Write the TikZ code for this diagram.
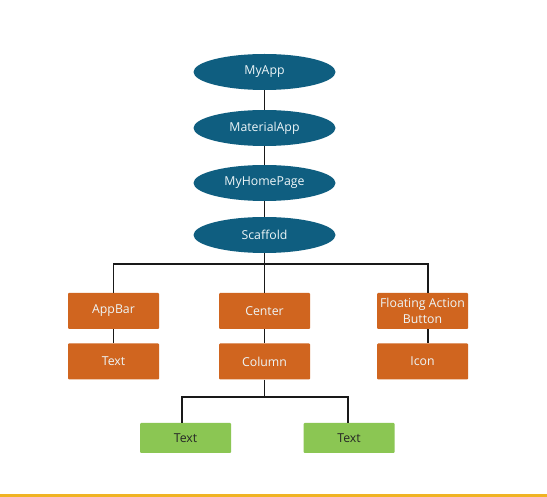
\documentclass[tikz,border=0pt]{standalone}
\usepackage{fontspec}
\setmainfont{Open Sans}
\usetikzlibrary{shapes.geometric}
\definecolor{nodeblue}{HTML}{0F5E80}
\definecolor{nodeorange}{HTML}{D0651F}
\definecolor{nodegreen}{HTML}{8BC653}
\definecolor{baryellow}{HTML}{F0B323}
\definecolor{lighttext}{HTML}{EEF6F8}
\begin{document}
\begin{tikzpicture}[x=1pt,y=-1pt,
  ell/.style={ellipse,fill=nodeblue,text=lighttext,minimum width=142pt,minimum height=36pt,inner sep=0pt,font=\fontsize{12.3}{14}\selectfont},
  obox/.style={rectangle,fill=nodeorange,text=lighttext,minimum width=91pt,minimum height=36pt,inner sep=1pt,rounded corners=1pt,align=center,font=\fontsize{12.3}{16}\selectfont},
  gbox/.style={rectangle,fill=nodegreen,text=black!85,minimum width=91pt,minimum height=30pt,inner sep=1pt,rounded corners=1pt,font=\fontsize{12.3}{14}\selectfont},
  conn/.style={draw=black!90,line width=1.9pt}]
\useasboundingbox (0,0) rectangle (547,497);
\fill[white] (0,0) rectangle (547,497);
\fill[baryellow] (0,494) rectangle (547,497);
% ellipses
\node[ell] (myapp) at (264.5,72) {MyApp};
\node[ell] (material) at (264.5,128) {MaterialApp};
\node[ell] (home) at (264.5,183) {MyHomePage};
\node[ell] (scaffold) at (264.5,235) {Scaffold};
% orange boxes
\node[obox] (appbar) at (113.5,311) {AppBar};
\node[obox] (center) at (264.5,311) {Center};
\node[obox] (fab) at (422.5,311) {Floating Action\\Button};
\node[obox] (text1) at (113.5,361.5) {Text};
\node[obox] (column) at (264.5,361.5) {Column};
\node[obox] (icon) at (422.5,361.5) {Icon};
% green boxes
\node[gbox] (text2) at (185.5,438) {Text};
\node[gbox] (text3) at (349,438) {Text};
% connectors
\coordinate (busA) at (264.5,264);
\coordinate (busB) at (264.5,397);
\draw[conn] (myapp.south) -- (material.north);
\draw[conn] (material.south) -- (home.north);
\draw[conn] (home.south) -- (scaffold.north);
\draw[conn] (scaffold.south) -- (center.north);
\draw[conn] (appbar.north) |- (busA) -| ([xshift=5.5pt]fab.north);
\draw[conn] (appbar.south) -- (text1.north);
\draw[conn] (center.south) -- (column.north);
\draw[conn] ([xshift=5.5pt]fab.south) -- ([xshift=5.5pt]icon.north);
\draw[conn] (column.south) -- (busB);
\draw[conn] ([xshift=-3.5pt]text2.north) |- (busB) -| ([xshift=-1pt]text3.north);
\end{tikzpicture}
\end{document}
